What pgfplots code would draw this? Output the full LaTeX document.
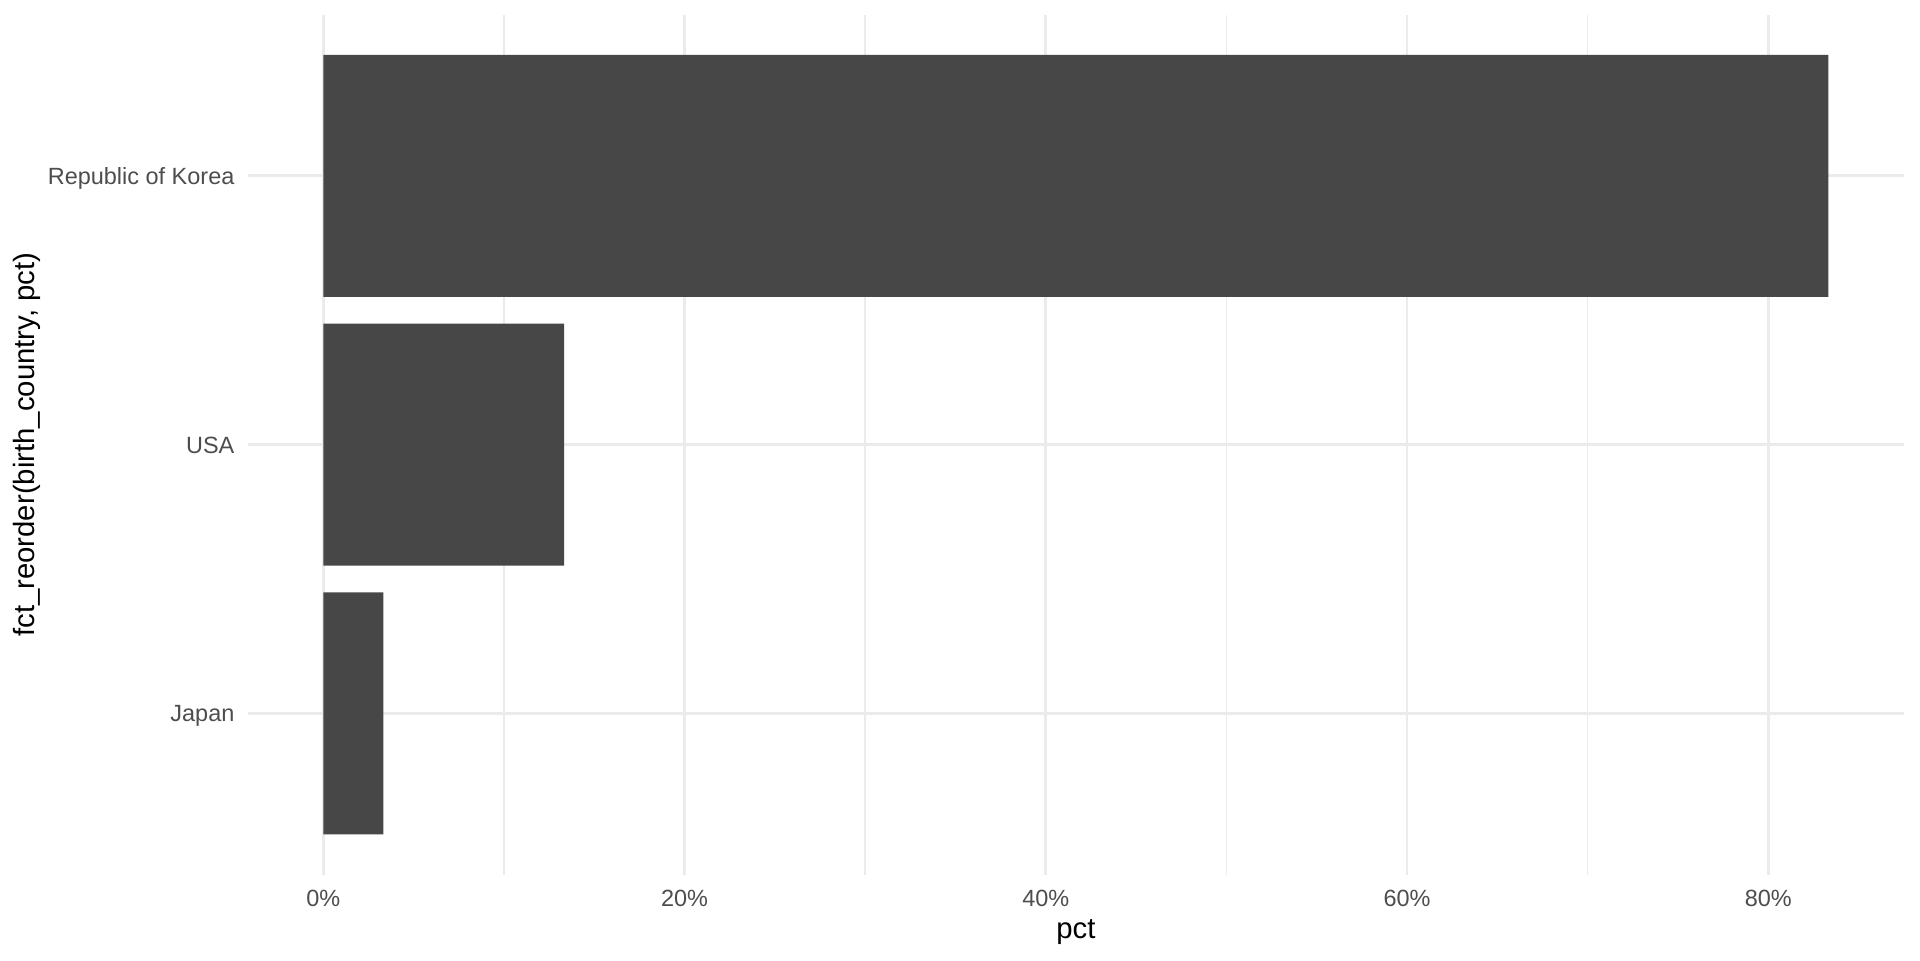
\documentclass[border=0pt]{standalone}
\usepackage{fontspec}
\setmainfont{Liberation Sans}
\usepackage{pgfplots}
\pgfplotsset{compat=1.18}
\definecolor{barfill}{HTML}{474747}
\definecolor{gridmaj}{HTML}{EBEBEB}
\definecolor{ticktxt}{HTML}{4D4D4D}
\begin{document}
\begin{tikzpicture}
\path[use as bounding box] (0,0) rectangle (720pt,360pt);
\begin{axis}[
  at={(93pt,32pt)}, anchor=south west,
  scale only axis, width=620.9pt, height=322.5pt,
  xmin=-4.1667, xmax=87.5, ymin=0.4, ymax=3.6,
  xbar, bar width=0.9,
  axis line style={draw=none},
  major tick length=0pt, minor tick length=0pt,
  xtick={0,20,40,60,80}, minor xtick={10,30,50,70},
  xticklabel={\pgfmathprintnumber{\tick}\%},
  ytick={1,2,3}, yticklabels={Japan,USA,Republic of Korea},
  /pgf/number format/assume math mode=true,
  xmajorgrids, xminorgrids, ymajorgrids,
  major grid style={draw=gridmaj, line width=1.07pt},
  minor grid style={draw=gridmaj, line width=0.53pt},
  tick label style={font=\fontsize{8.8}{10}\selectfont, text=ticktxt, inner sep=0pt},
  yticklabel style={anchor=base east, xshift=-4.9pt, yshift=-3.15pt},
  xticklabel style={anchor=north, yshift=-5.6pt},
  xlabel={pct}, ylabel={fct\_reorder(birth\_country, pct)},
  label style={font=\fontsize{11}{13}\selectfont, text=black, inner sep=0pt},
  xlabel style={at={(axis description cs:0.5,-0.0665)}, anchor=center},
  ylabel style={at={(axis description cs:-0.13352,0.5)}, anchor=center, rotate=0},
]
\addplot[draw=none, fill=barfill] coordinates {(3.3333,1) (13.3333,2) (83.3333,3)};
\end{axis}
\end{tikzpicture}
\end{document}
